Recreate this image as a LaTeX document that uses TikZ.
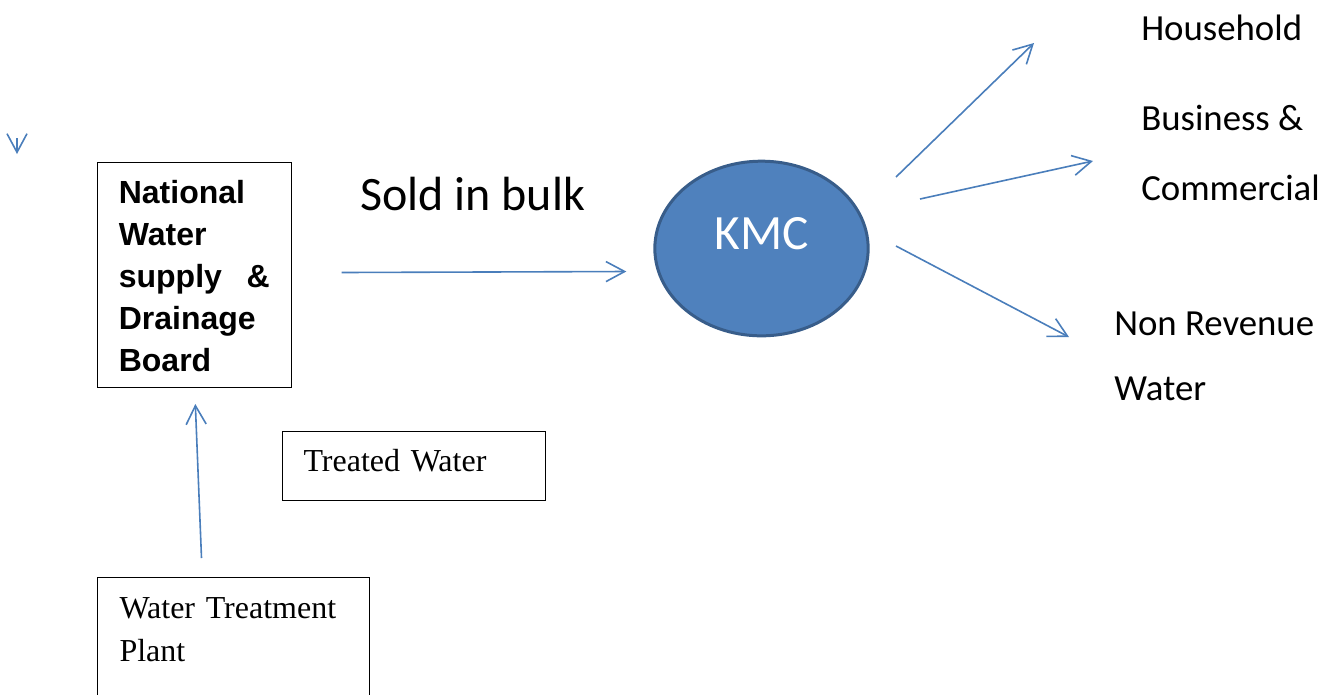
\documentclass[tikz,border=0pt]{standalone}
\usepackage{fontspec}
\setmainfont{Carlito}
\newfontfamily\arialfont{Liberation Sans}
\newfontfamily\timesfont{Liberation Serif}
\usetikzlibrary{arrows.meta,shapes.geometric,calc}
\definecolor{arrowblue}{HTML}{4A7EBB}
\definecolor{kmcfill}{HTML}{4F81BD}
\definecolor{kmcline}{HTML}{385D8A}
\begin{document}
\begin{tikzpicture}[x=0.75pt, y=-0.75pt,
  flow/.style={draw=arrowblue, line width=1.2pt, -{Straight Barb[length=14pt,width=15pt]}},
  box/.style={draw, line width=0.75pt, inner ysep=0pt, anchor=north west},
  lbl/.style={inner sep=0pt, anchor=base west, align=flush left, font=\fontsize{27.6}{52.5}\selectfont}]
\useasboundingbox (0,0) rectangle (1328,694);
\clip (0,0) rectangle (1328,694);
\node[box, inner xsep=16pt, text width=113.25pt, text height=30.75pt, text depth=138pt,
  font=\arialfont\bfseries\fontsize{24}{31.5}\selectfont] (nwsdb) at (97,162)
  {National\\ Water\\ supply\hfill\&\\ Drainage\\ Board};
\node[box, inner xsep=15.75pt, text width=165.75pt, text height=30pt, text depth=21.75pt,
  font=\timesfont\fontsize{24}{32.25}\selectfont] (treated) at (282,431) {Treated Water};
\node[box, inner xsep=16.5pt, text width=171pt, text height=31.1pt, text depth=80pt,
  font=\timesfont\fontsize{24}{32.25}\selectfont] (wtp) at (97,577) {Water Treatment\\ Plant};
\node[ellipse, draw=kmcline, line width=2.25pt, fill=kmcfill, text=white, minimum width=160pt,
  minimum height=131pt, inner sep=0pt, text depth=22.5pt, font=\fontsize{37}{37}\selectfont]
  (kmc) at (761.5,248.5) {KMC};
\node[inner sep=0pt, anchor=base west, font=\fontsize{36}{36}\selectfont] (sold) at (360,210) {Sold in bulk};
\node[lbl] (house) at (1141,40) {Household};
\node[lbl, text width=175pt] (business) at (1141,130) {Business \&\\ Commercial};
\node[lbl, text width=175pt, font=\fontsize{27.6}{48.75}\selectfont] (nrw) at (1114,335) {Non Revenue\\ Water};
\coordinate (strayTop) at (17,138); \coordinate (strayTip) at (17,154);
\draw[flow] (strayTop) -- (strayTip);
\draw[flow] ($(nwsdb.east)+(50,-2.5)$) -- ($(kmc.west)+(-27,23)$);
\draw[flow] ($(wtp.north)+(-32,-19)$) -- ($(nwsdb.south)+(1,16)$);
\draw[flow] ($(kmc.center)+(134.5,-71.5)$) -- ($(house.base west)+(-107,3)$);
\draw[flow] ($(kmc.center)+(158.5,-49.5)$) -- ($(business.base west)+(-48,31)$);
\draw[flow] ($(kmc.center)+(134.5,-2.5)$) -- ($(nrw.base west)+(-45,2)$);
\end{tikzpicture}
\end{document}
